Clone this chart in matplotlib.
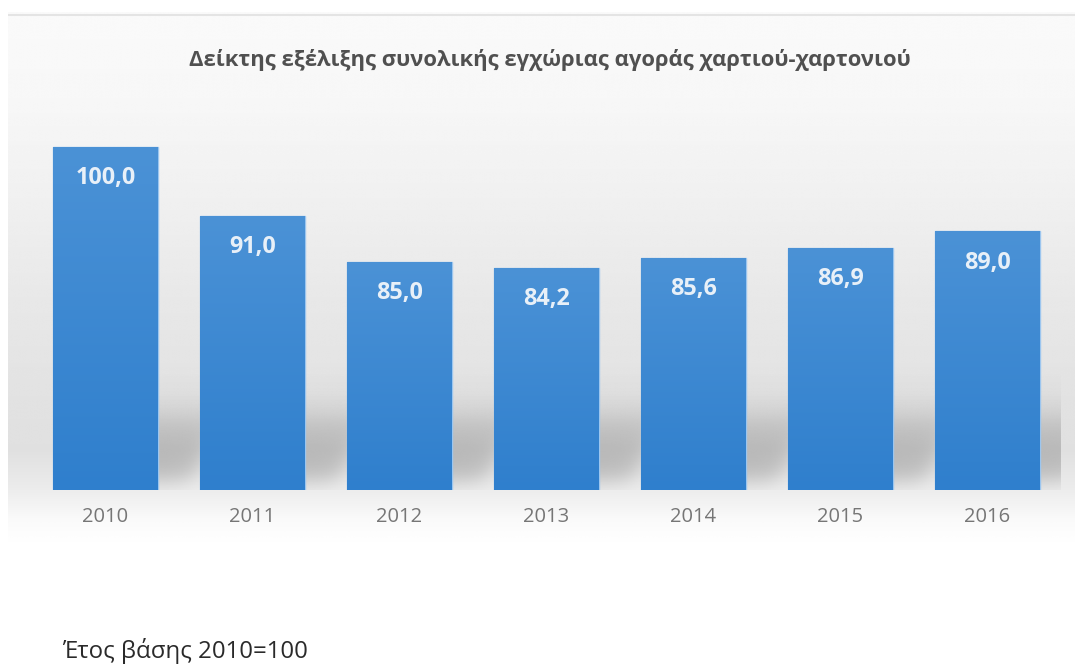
import numpy as np
import matplotlib
matplotlib.use("Agg")
import matplotlib.pyplot as plt
from matplotlib.colors import LinearSegmentedColormap, to_rgb

# ---- data ----
years = ["2010", "2011", "2012", "2013", "2014", "2015", "2016"]
values = [100.0, 91.0, 85.0, 84.2, 85.6, 86.9, 89.0]
value_labels = ["100,0", "91,0", "85,0", "84,2", "85,6", "86,9", "89,0"]
title = "Δείκτης εξέλιξης συνολικής εγχώριας αγοράς χαρτιού-χαρτονιού"
footnote = "Έτος βάσης 2010=100"

FONT = ["Open Sans", "DejaVu Sans"]
plt.rcParams["font.family"] = FONT

W, H = 1075, 664
fig = plt.figure(figsize=(W / 100, H / 100), dpi=100)
fig.patch.set_facecolor("white")

# ---- background panel (grey gradient) ----
bg = fig.add_axes([8 / W, 1 - 545 / H, 1 - 8 / W, (545 - 12) / H])
bg.set_axis_off()
ys = np.array([12, 100, 200, 300, 400, 450, 490, 520, 545], float)
gv = np.array([250, 247, 240, 232, 226, 224, 236, 250, 255], float) / 255
py = np.linspace(12, 545, 400)
col = np.interp(py, ys, gv)
img = np.repeat(col[:, None], 50, axis=1)
bg.imshow(img, cmap="gray", vmin=0, vmax=1, aspect="auto",
          extent=[0, 1, 0, 1], origin="upper", interpolation="bicubic")
bg.plot([0, 1], [0.995, 0.995], color="#e4e4e4", lw=1.5, transform=bg.transAxes)
bg.set_xlim(0, 1)
bg.set_ylim(0, 1)

# ---- main axes ----
ax_left, ax_right = 32, 1061
ax_bottom, ax_top = 490, 110
ax = fig.add_axes([ax_left / W, 1 - ax_bottom / H,
                   (ax_right - ax_left) / W, (ax_bottom - ax_top) / H])
ax.set_facecolor("none")
ymin = 55.3
ymax = 100 + (147 - 110) / 7.67
x = np.arange(len(years))
bw = 0.71


def soft(t, s):
    return 1.0 / (1.0 + np.exp(-t / s))


# soft blurred shadows cast to the right of each bar near the base
sx = np.linspace(-0.5, len(years) - 0.5, 900)
sy = np.linspace(ymin, ymin + 15, 220)
SX, SY = np.meshgrid(sx, sy)
shadow = np.zeros_like(SX)
for xi in x:
    off = 0.20 + 0.025 * (SY - ymin)
    left = xi - bw / 2 + off
    right = xi + bw / 2 + off
    mx = soft(SX - left, 0.045) * soft(right - SX, 0.05)
    my = soft(SY - (ymin + 1.2), 0.8) * soft((ymin + 9.5) - SY, 1.5)
    shadow = np.maximum(shadow, mx * my)
rgba = np.zeros(shadow.shape + (4,))
rgba[..., :3] = to_rgb("#7a7a7a")
rgba[..., 3] = 0.40 * shadow
ax.imshow(rgba, origin="lower", aspect="auto", zorder=1,
          extent=[sx[0], sx[-1], sy[0], sy[-1]], interpolation="bilinear")

bars = ax.bar(x, [v - ymin for v in values], bottom=ymin, width=bw,
              color="#3f88d2", edgecolor="#9cc6ef", linewidth=1.0, zorder=3)

cmap = LinearSegmentedColormap.from_list("b", ["#2f7fcd", "#4b92d6"])
grad = np.linspace(0, 1, 256)[:, None]
for b in bars:
    x0, y0 = b.get_x(), b.get_y()
    w, h = b.get_width(), b.get_height()
    im = ax.imshow(grad, cmap=cmap, aspect="auto", origin="lower",
                   extent=[x0, x0 + w, y0, y0 + h], zorder=3.5,
                   interpolation="bicubic")
    im.set_clip_path(b)
ax.set_xlim(-0.5, len(years) - 0.5)
ax.set_ylim(ymin, ymax)

for xi, v, lab in zip(x, values, value_labels):
    ax.annotate(lab, (xi, v), xytext=(0, -22.5), textcoords="offset points",
                ha="center", va="center", color="#e8f0f8", fontsize=16.8,
                fontweight="bold", zorder=5)

ax.set_xticks(x)
ax.set_xticklabels(years, color="#767676", fontsize=14.5)
ax.tick_params(axis="x", length=0, pad=12)
ax.set_yticks([])
for s in ax.spines.values():
    s.set_visible(False)

fig.text(0.5 * (192 + 908) / W, 1 - 60 / H, title, ha="center", va="center",
         fontsize=15.8, fontweight="bold", color="#505050")
fig.text(62 / W, 1 - 651 / H, footnote, ha="left", va="center",
         fontsize=17.3, color="#2a2a2a")

fig.savefig("out.png", dpi=100)
